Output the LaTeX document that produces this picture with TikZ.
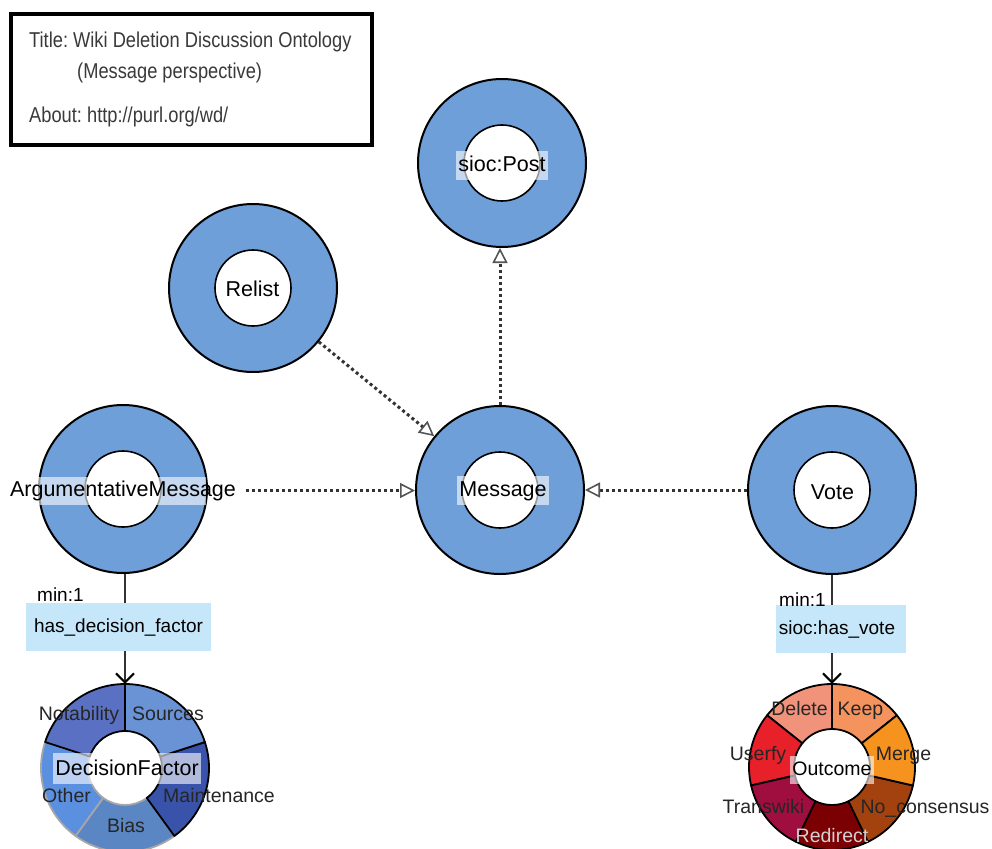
\documentclass[tikz,border=0pt]{standalone}
\usepackage{fontspec}
\setmainfont{Liberation Sans}
\usetikzlibrary{arrows.meta,calc}
\frenchspacing
\definecolor{ringblue}{HTML}{6F9FD8}
\definecolor{linegray}{HTML}{333333}
\definecolor{arrowgray}{HTML}{555555}
\definecolor{relblue}{HTML}{C6E7F9}
\definecolor{titlegray}{HTML}{3A3A3A}
\definecolor{pietext}{HTML}{262626}
% decision factor colours
\definecolor{dfNot}{HTML}{5A70C2}
\definecolor{dfSrc}{HTML}{6A93D6}
\definecolor{dfMnt}{HTML}{3A53AA}
\definecolor{dfBias}{HTML}{5A86C4}
\definecolor{dfOth}{HTML}{5B90E0}
% outcome colours
\definecolor{ocDel}{HTML}{F0937A}
\definecolor{ocKeep}{HTML}{F5935F}
\definecolor{ocMerge}{HTML}{F6921E}
\definecolor{ocNoc}{HTML}{A3420F}
\definecolor{ocRed}{HTML}{7B0004}
\definecolor{ocTrw}{HTML}{A00D3F}
\definecolor{ocUsr}{HTML}{E8202A}
\newcommand\mysector[6]{% fill, draw, a1, a2, R, r
  \filldraw[fill=#1, draw=#2, line width=1.8pt, line join=round]
    (#3:#5) arc[start angle=#3, end angle=#4, radius=#5]
    -- (#4:#6) arc[start angle=#4, end angle=#3, radius=#6] -- cycle;}
\newcommand\ttext[1]{\scalebox{0.85}[1]{#1}}
\begin{document}
\begin{tikzpicture}[x=1pt,y=-1pt,
  ring/.style={circle, draw=black, line width=2pt, fill=ringblue, minimum size=168pt, inner sep=0pt},
  hole/.style={circle, draw=black, line width=1.6pt, fill=white, minimum size=76pt, inner sep=0pt},
  piebound/.style={circle, minimum size=168pt, inner sep=0pt},
  lbl/.style={font=\fontsize{21.5}{24}\selectfont, text height=16pt, text depth=5pt, inner xsep=2pt, inner ysep=4pt, anchor=base},
  lblbox/.style={lbl, fill=white, fill opacity=0.6, text opacity=1},
  plbl/.style={font=\fontsize{19.5}{22}\selectfont, text=pietext, anchor=base, inner sep=0pt},
  plight/.style={plbl, text=white!88!black},
  pbox/.style={font=\fontsize{19.5}{22}\selectfont, text height=15pt, text depth=5pt, inner xsep=2pt, inner ysep=4pt, anchor=base, fill=white, fill opacity=0.6, text opacity=1},
  minlbl/.style={font=\fontsize{19}{22}\selectfont, anchor=base west, inner sep=0pt},
  relbox/.style={fill=relblue, font=\fontsize{19}{22}\selectfont, inner sep=2pt},
  isa/.style={draw=linegray, line width=3pt, dash pattern=on 3pt off 3pt,
    -{Triangle[open, length=15pt, width=15pt, line width=1.6pt, color=arrowgray]}},
  hasrel/.style={draw=linegray, line width=2pt,
    -{Straight Barb[length=9pt, width=18pt, line width=2pt, color=black]}},
  titletxt/.style={font=\fontsize{21.5}{24}\selectfont, text=titlegray, anchor=base west, inner sep=0pt}
]
\clip (0,0) rectangle (992,848);
\fill[white] (0,0) rectangle (992,848);

% title box
\node[draw=black, line width=4pt, minimum width=361pt, minimum height=131pt, inner sep=0pt] (titlebox) at (191.5,79.5) {};
\node[titletxt] (t1) at (29,48) {\ttext{Title: Wiki Deletion Discussion Ontology}};
\node[titletxt] (t2) at (77,79) {\ttext{(Message perspective)}};
\node[titletxt] (t3) at (29,122) {\ttext{About: http://purl.org/wd/}};

% ring classes
\node[ring] (post) at (502,163) {};
\node[hole] (posth) at (post) {};
\node[lblbox] (postl) at (502,171) {sioc:Post};

\node[ring] (relist) at (253,288) {};
\node[hole] (relisth) at (relist) {};
\node[lbl] (relistl) at (252.5,296) {Relist};

\node[ring] (msg) at (500,490) {};
\node[hole] (msgh) at (msg) {};
\node[lblbox] (msgl) at (503,496) {Message};

\node[ring] (argm) at (123,489) {};
\node[hole] (argmh) at (argm) {};
\fill[white, opacity=0.6] (38,477) rectangle (206,505);
\node[lbl] (argml) at (123,496) {ArgumentativeMessage};

\node[ring] (vote) at (832,490) {};
\node[hole] (voteh) at (vote) {};
\node[lbl] (votel) at (832.5,499) {Vote};

% pie bounds
\node[piebound] (df) at (125,768) {};
\node[circle, minimum size=166pt, inner sep=0pt] (oc) at (832,767) {};

% subclass connectors
\draw[isa] (relist) -- (msg);
\draw[isa] ([xshift=8pt]argml.east) -- (argml.east -| msg.west);
\draw[isa] (vote) -- (msg);
\draw[isa] (msg.north) -- (msg.north |- post.south);

% property connectors
\draw[hasrel] (df.north |- argm.south) -- (df.north);
\draw[hasrel] (vote.south) -- (vote.south |- oc.north);
\node[relbox, minimum width=185pt, minimum height=48pt] (hdf) at (118.5,627) {has\_decision\_factor};
\node[relbox, minimum width=130pt, minimum height=48pt] (hv) at (841,629) {\hspace*{-8pt}sioc:has\_vote};
\node[minlbl] (min1) at (37,601) {min:1};
\node[minlbl] (min2) at (779,606) {min:1};

% DecisionFactor pie
\begin{scope}[shift={(125,768)}, yscale=-1]
  \mysector{dfOth}{gray!70}{162}{234}{84}{37}
  \mysector{dfBias}{gray!70}{234}{306}{84}{37}
  \mysector{dfMnt}{black}{-54}{18}{84}{37}
  \mysector{dfSrc}{black}{18}{90}{84}{37}
  \mysector{dfNot}{black}{90}{162}{84}{37}
\end{scope}
\node[plbl] (l-not) at (79,720) {Notability};
\node[plbl] (l-src) at (168,720) {Sources};
\node[plbl] (l-oth) at (66.5,802) {Other};
\node[plbl] (l-mnt) at (219,802) {Maintenance};
\node[plbl] (l-bias) at (126,832) {Bias};
\node[lblbox, text height=17pt, text depth=4pt, inner ysep=5pt] (dfl) at (127,775) {DecisionFactor};

% Outcome pie
\begin{scope}[shift={(832,767)}, yscale=-1]
  \mysector{ocKeep}{black}{38.571}{90}{83}{38}
  \mysector{ocDel}{black}{90}{141.429}{83}{38}
  \mysector{ocUsr}{black}{141.429}{192.857}{83}{38}
  \mysector{ocTrw}{black}{192.857}{244.286}{83}{38}
  \mysector{ocRed}{black}{244.286}{295.714}{83}{38}
  \mysector{ocNoc}{black}{295.714}{347.143}{83}{38}
  \mysector{ocMerge}{black}{347.143}{398.571}{83}{38}
\end{scope}
\node[plbl] (l-del) at (799.5,715) {Delete};
\node[plbl] (l-keep) at (860.5,715) {Keep};
\node[plbl] (l-merge) at (903.5,760) {Merge};
\node[plbl] (l-usr) at (758,760) {Userfy};
\node[plbl] (l-trw) at (763.5,813) {Transwiki};
\node[plbl] (l-noc) at (925,813) {No\_consensus};
\node[plbl, text=gray!35] (l-red) at (832,842) {Redirect};
\node[pbox] (ocl) at (832,775) {Outcome};
\end{tikzpicture}
\end{document}
